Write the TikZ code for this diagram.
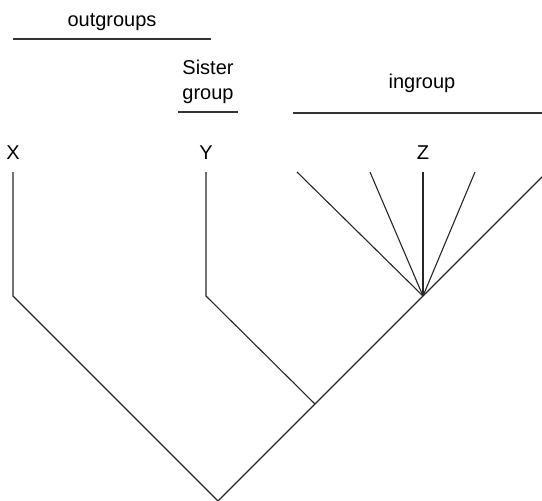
\documentclass[tikz,border=0pt]{standalone}
\usepackage{fontspec}
\setmainfont{Liberation Sans}
\begin{document}
\begin{tikzpicture}[x=1pt,y=-1pt,
  branch/.style={draw=black!85,line width=1.1pt,line join=miter},
  rule/.style={draw=black!80,line width=1.1pt},
  lbl/.style={inner sep=0pt,anchor=base,font=\fontsize{20}{24}\selectfont}]
\useasboundingbox (0,0) rectangle (542,501);

% group labels and their rules
\node[lbl] (outg) at (112,26) {outgroups};
\draw[rule] (13,39) -- (211,39);
\node[lbl] (sis1) at (208,74) {Sister};
\node[lbl] (sis2) at (208,99) {group};
\draw[rule] (178,112) -- (238,112);
\node[lbl] (ing) at (422,88) {ingroup};
\draw[rule] (293,113) -- (542,113);

% taxon labels
\node[lbl] (X) at (13,159) {X};
\node[lbl] (Y) at (206,159) {Y};
\node[lbl] (Z) at (423,159) {Z};

% tree nodes
\coordinate (root) at (218,501);
\coordinate (xbend) at (13,296);
\coordinate (ybend) at (206,296);
\coordinate (sister) at (315,404);
\coordinate (zapex) at (423,296);
\coordinate (xtop) at (13,172);
\coordinate (ytop) at (206,172);
\coordinate (z1) at (297,172);
\coordinate (z2) at (370,172);
\coordinate (z3) at (423,172);
\coordinate (z4) at (475,172);
\coordinate (z5) at (547,172);

% branches
\draw[branch] (xtop) -- (xbend) -- (root);
\draw[branch] (ytop) -- (ybend) -- (sister);
\draw[branch] (root) -- (sister) -- (zapex);
\foreach \t in {z1,z2,z3,z4,z5}
  \draw[branch] (zapex) -- (\t);
\end{tikzpicture}
\end{document}
